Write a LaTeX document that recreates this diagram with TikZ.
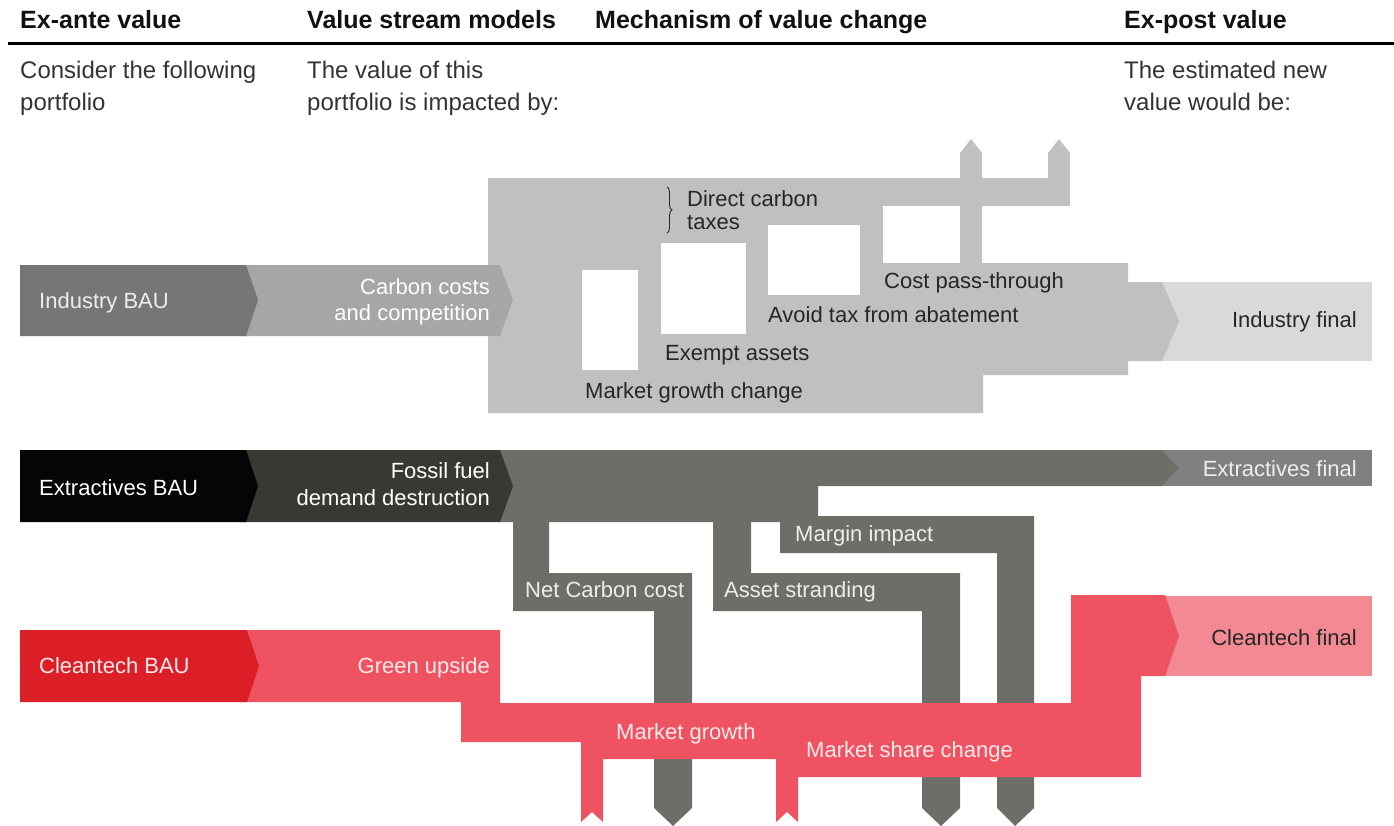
\documentclass[tikz,border=0pt]{standalone}
\usepackage{fontspec}
\setmainfont{Liberation Sans}
\usetikzlibrary{decorations.pathreplacing}
\definecolor{indbau}{HTML}{767675}
\definecolor{indmid}{HTML}{A6A6A5}
\definecolor{indblk}{HTML}{C0C0BF}
\definecolor{indfin}{HTML}{D9D9D9}
\definecolor{extbau}{HTML}{050505}
\definecolor{extmid}{HTML}{393934}
\definecolor{extflow}{HTML}{6E6E69}
\definecolor{extfin}{HTML}{808080}
\definecolor{clnbau}{HTML}{DC1F26}
\definecolor{clnflow}{HTML}{EF5361}
\definecolor{clnfin}{HTML}{F38A93}
\definecolor{hdrc}{HTML}{111111}
\definecolor{subc}{HTML}{333333}
\definecolor{darktxt}{HTML}{262626}
\definecolor{lighttxt}{HTML}{EDEDED}
\definecolor{redtxt}{HTML}{FDEBEC}
\begin{document}
\begin{tikzpicture}[x=1pt,y=-1pt,
  hdr/.style={inner sep=0pt, anchor=base west, font=\bfseries\fontsize{25}{30}\selectfont, text=hdrc},
  sub/.style={inner sep=0pt, anchor=base west, font=\fontsize{24}{30}\selectfont, text=subc},
  lbl/.style={inner sep=0pt, anchor=base west, font=\fontsize{22}{26}\selectfont},
  lblr/.style={lbl, anchor=base east},
  hole/.style={fill=white}]
\useasboundingbox (0,0) rectangle (1394,825);

% ---------- header ----------
\node[hdr] (h1) at (20,28) {Ex-ante value};
\node[hdr] (h2) at (307,28) {Value stream models};
\node[hdr] (h3) at (595,28) {Mechanism of value change};
\node[hdr] (h4) at (1124,28) {Ex-post value};
\draw[line width=3pt, black] (8,43) -- (1394,43);
\node[sub] (s1a) at (20,78) {Consider the following};
\node[sub] (s1b) at (20,110) {portfolio};
\node[sub] (s2a) at (307,78) {The value of this};
\node[sub] (s2b) at (307,110) {portfolio is impacted by:};
\node[sub] (s4a) at (1124,78) {The estimated new};
\node[sub] (s4b) at (1124,110) {value would be:};

% ---------- industry ----------
\fill[indfin] (1141,282) rectangle (1372,361);
\fill[indblk] (488,178) -- (960,178) -- (960,153) -- (971,139) -- (982,153) -- (982,178)
  -- (1048,178) -- (1048,153) -- (1059,139) -- (1070,153) -- (1070,206) -- (982,206)
  -- (982,263) -- (1128,263) -- (1128,282) -- (1162,282) -- (1179,321) -- (1162,361)
  -- (1128,361) -- (1128,375) -- (983,375) -- (983,413) -- (488,413) -- cycle;
\fill[hole] (582,270) rectangle (638,370);
\fill[hole] (661,243) rectangle (746,334);
\fill[hole] (768,225) rectangle (860,295);
\fill[hole] (883,206) rectangle (960,263);
\fill[indmid] (240,265) -- (500,265) -- (513,300) -- (500,336) -- (240,336) -- cycle;
\fill[indbau] (20,265) -- (246,265) -- (258,300) -- (246,336) -- (20,336) -- cycle;
\draw[darktxt, line width=0.9pt, decorate, decoration={brace, amplitude=5pt}] (667,187) -- (667,233);

\node[lbl, text=lighttxt] (ibau) at (39,308) {Industry BAU};
\node[lblr, text=white] (icc1) at (490,294) {Carbon costs};
\node[lblr, text=white] (icc2) at (490,320) {and competition};
\node[lbl, text=darktxt] (dct1) at (687,206) {Direct carbon};
\node[lbl, text=darktxt] (dct2) at (687,229) {taxes};
\node[lbl, text=darktxt] (cpt) at (884,288) {Cost pass-through};
\node[lbl, text=darktxt] (ata) at (768,322) {Avoid tax from abatement};
\node[lbl, text=darktxt] (exa) at (665,360) {Exempt assets};
\node[lbl, text=darktxt] (mgc) at (585,398) {Market growth change};
\node[lblr, text=darktxt] (ifin) at (1357,327) {Industry final};

% ---------- extractives ----------
\fill[extfin] (1141,450) rectangle (1372,486);
\fill[extflow] (500,450) -- (1162,450) -- (1179,468) -- (1162,486) -- (818,486) -- (818,516)
  -- (1034,516) -- (1034,808) -- (1015,826) -- (997,808) -- (997,553) -- (780,553)
  -- (780,522) -- (751,522) -- (751,573) -- (960,573) -- (960,808) -- (941,826)
  -- (922,808) -- (922,611) -- (713,611) -- (713,522) -- (549,522) -- (549,573)
  -- (692,573) -- (692,808) -- (673,826) -- (654,808) -- (654,611) -- (513,611)
  -- (513,522) -- (500,522) -- cycle;
\fill[extmid] (240,450) -- (500,450) -- (513,486) -- (500,522) -- (240,522) -- cycle;
\fill[extbau] (20,450) -- (246,450) -- (258,486) -- (246,522) -- (20,522) -- cycle;

\node[lbl, text=white] (ebau) at (39,495) {Extractives BAU};
\node[lblr, text=white] (eff1) at (490,478) {Fossil fuel};
\node[lblr, text=white] (eff2) at (490,505) {demand destruction};
\node[lblr, text=lighttxt] (efin) at (1357,476) {Extractives final};
\node[lbl, text=lighttxt] (mi) at (795,541) {Margin impact};
\node[lbl, text=lighttxt] (ncc) at (525,597) {Net Carbon cost};
\node[lbl, text=lighttxt] (ast) at (724,597) {Asset stranding};

% ---------- cleantech ----------
\fill[clnfin] (1141,596) rectangle (1372,676);
\fill[clnflow] (240,630) -- (500,630) -- (500,703) -- (1071,703) -- (1071,595) -- (1165,595)
  -- (1179,636) -- (1165,676) -- (1141,676) -- (1141,777) -- (798,777) -- (798,822)
  -- (787,812) -- (776,822) -- (776,759) -- (603,759) -- (603,822) -- (592,812)
  -- (581,822) -- (581,742) -- (461,742) -- (461,702) -- (240,702) -- cycle;
\fill[clnbau] (20,630) -- (247,630) -- (259,666) -- (247,702) -- (20,702) -- cycle;

\node[lbl, text=redtxt] (cbau) at (39,673) {Cleantech BAU};
\node[lblr, text=redtxt] (gup) at (490,673) {Green upside};
\node[lblr, text=darktxt] (cfin) at (1357,645) {Cleantech final};
\node[lbl, text=redtxt] (mg) at (616,739) {Market growth};
\node[lbl, text=redtxt] (msc) at (806,757) {Market share change};
\end{tikzpicture}
\end{document}
